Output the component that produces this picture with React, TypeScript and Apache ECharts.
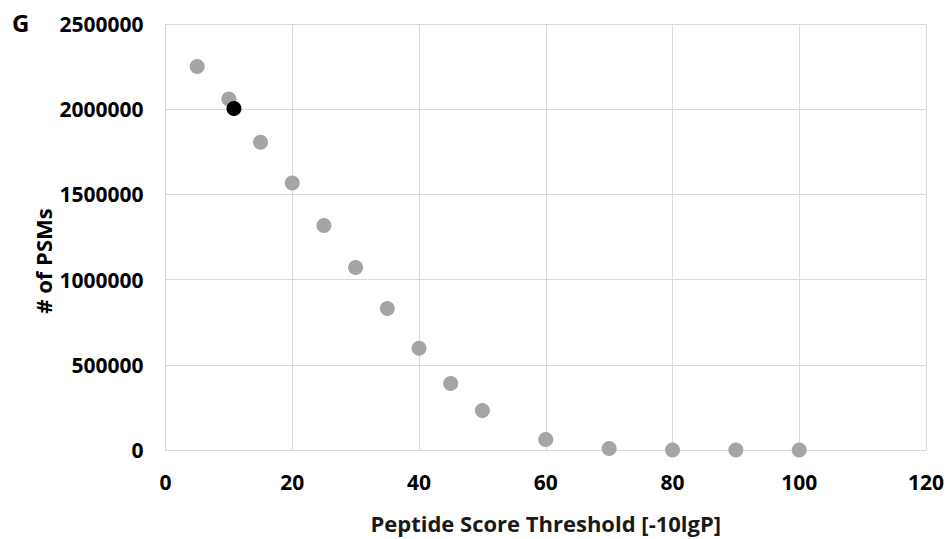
import React, { useEffect, useRef } from "react";
import * as echarts from "echarts";

const thresholds = [5, 10, 15, 20, 25, 30, 35, 40, 45, 50, 60, 70, 80, 90, 100];
const psms = [2250000, 2060000, 1806000, 1567000, 1317000, 1071000, 831000, 597000, 390000, 232000, 61000, 9000, 0, 0, 0];
const highlight = [[10.8, 2004000]];

const xTitle = "Peptide Score Threshold [-10lgP]";
const yTitle = "# of PSMs";
const panel = "G";

const FONT = "'Open Sans', sans-serif";

export default function App() {
  const ref = useRef<HTMLDivElement>(null);
  useEffect(() => {
    const chart = echarts.init(ref.current!, null, { renderer: "svg" });
    chart.setOption({
      animation: false,
      backgroundColor: "#ffffff",
      grid: { left: 165.5, right: 24, top: 24, bottom: 87.5, containLabel: false },
      xAxis: {
        type: "value",
        min: 0,
        max: 120,
        interval: 20,
        name: xTitle,
        nameLocation: "middle",
        nameGap: 62,
        nameTextStyle: { fontFamily: FONT, fontWeight: "bold", fontSize: 22, color: "#1a1a1a" },
        axisLine: { show: true, lineStyle: { color: "#d9d9d9", width: 1 } },
        axisTick: { show: false },
        axisLabel: { fontFamily: FONT, fontWeight: "bold", fontSize: 21, color: "#000", margin: 21 },
        splitLine: { show: true, lineStyle: { color: "#d9d9d9", width: 1 } },
      },
      yAxis: {
        type: "value",
        min: 0,
        max: 2500000,
        interval: 500000,
        axisLine: { show: true, lineStyle: { color: "#d9d9d9", width: 1 } },
        axisTick: { show: false },
        axisLabel: {
          fontFamily: FONT,
          fontWeight: "bold",
          fontSize: 21,
          color: "#000",
          margin: 22,
          formatter: (v: number) => String(v),
        },
        splitLine: { show: true, lineStyle: { color: "#d9d9d9", width: 1 } },
      },
      graphic: [
        {
          type: "text",
          left: 12,
          top: 10,
          style: { text: panel, font: `bold 24px ${FONT}`, fill: "#000" },
        },
        {
          type: "text",
          x: 43,
          y: 261,
          rotation: Math.PI / 2,
          style: {
            text: yTitle,
            font: `bold 22px ${FONT}`,
            fill: "#000",
            align: "center",
            verticalAlign: "middle",
          },
        },
      ],
      series: [
        {
          type: "scatter",
          data: thresholds.map((t, i) => [t, psms[i]]),
          symbolSize: 15,
          itemStyle: { color: "#a5a5a5", opacity: 1 },
          clip: false,
          z: 2,
        },
        {
          type: "scatter",
          data: highlight,
          symbolSize: 15,
          itemStyle: { color: "#000000", opacity: 1 },
          clip: false,
          z: 3,
        },
      ],
    });
    return () => chart.dispose();
  }, []);
  return <div ref={ref} style={{ width: 950, height: 539, position: "absolute", left: 0, top: 0 }} />;
}
